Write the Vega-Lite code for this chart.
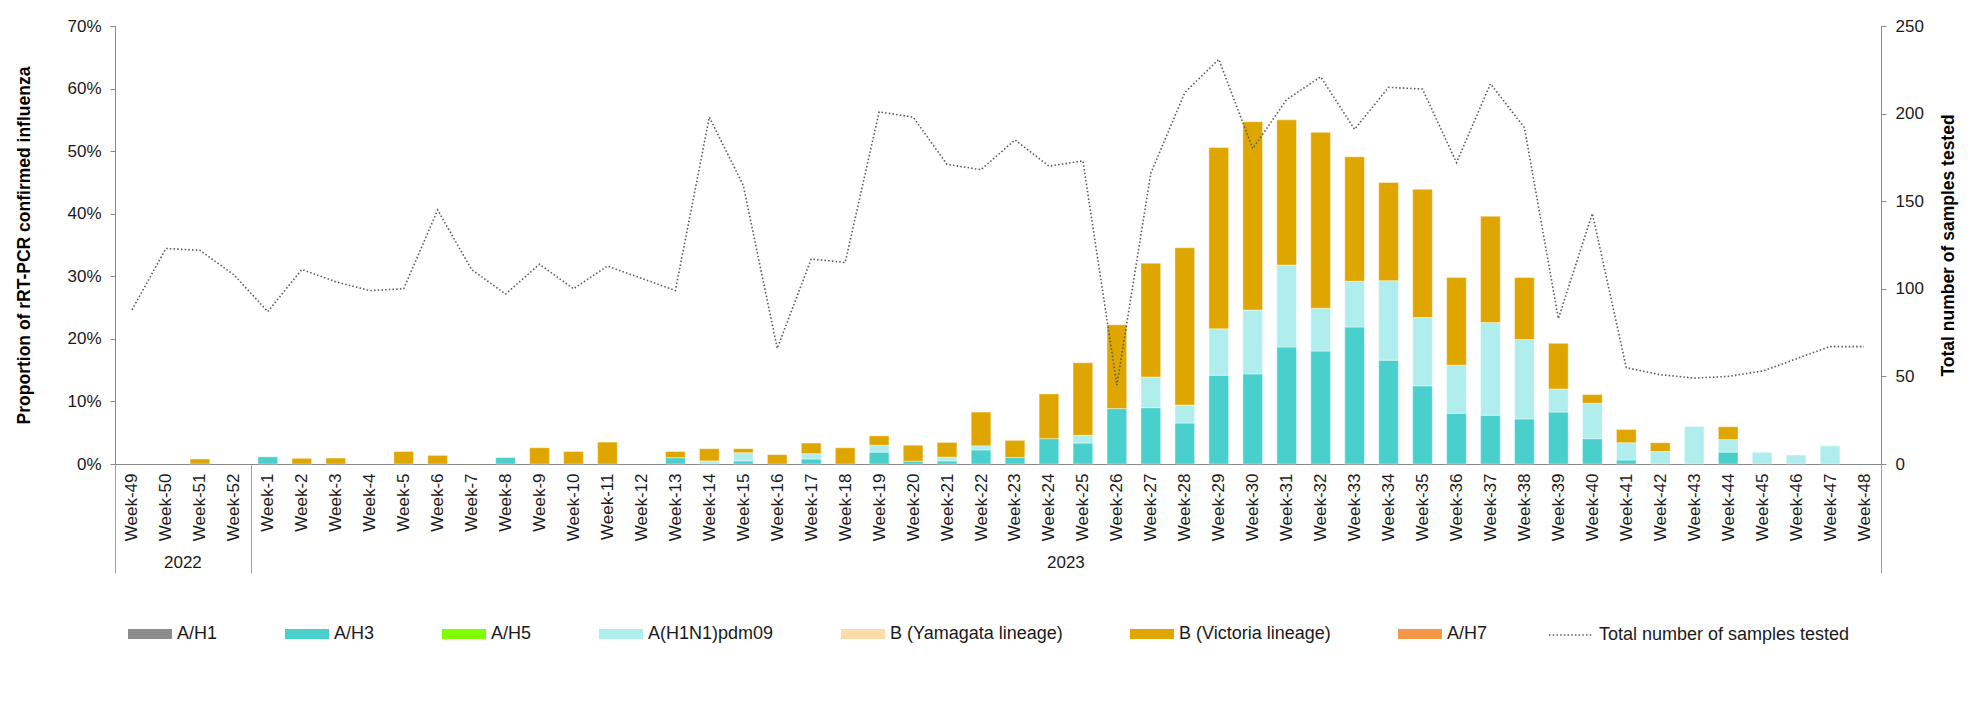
{
  "$schema": "https://vega.github.io/schema/vega-lite/v6.json",
  "width": 1766,
  "height": 438,
  "autosize": {"type": "none"},
  "padding": {"left": 115, "top": 26, "right": 100, "bottom": 240},
  "background": "white",
  "config": {
    "font": "Liberation Sans",
    "view": {"stroke": null},
    "axis": {"labelFont": "Liberation Sans", "titleFont": "Liberation Sans", "labelColor": "#1a1a1a", "titleColor": "#000000", "domainColor": "#898989", "tickColor": "#898989", "grid": false},
    "legend": {"labelFont": "Liberation Sans", "labelColor": "#1a1a1a", "labelFontSize": 18, "labelOffset": 5, "labelLimit": 400, "title": null}
  },
  "datasets": {
    "subtypes": [
      {"subtype": "A/H1", "stackRank": 1},
      {"subtype": "A/H3", "stackRank": 2},
      {"subtype": "A/H5", "stackRank": 3},
      {"subtype": "A(H1N1)pdm09", "stackRank": 4},
      {"subtype": "B (Yamagata lineage)", "stackRank": 5},
      {"subtype": "B (Victoria lineage)", "stackRank": 6},
      {"subtype": "A/H7", "stackRank": 7}
    ],
    "bars": [
      {"week": "Week-51", "subtype": "B (Victoria lineage)", "percent": 0.8},
      {"week": "Week-1", "subtype": "A/H3", "percent": 1.15},
      {"week": "Week-2", "subtype": "B (Victoria lineage)", "percent": 0.9},
      {"week": "Week-3", "subtype": "B (Victoria lineage)", "percent": 0.95},
      {"week": "Week-5", "subtype": "B (Victoria lineage)", "percent": 2.0},
      {"week": "Week-6", "subtype": "B (Victoria lineage)", "percent": 1.38},
      {"week": "Week-8", "subtype": "A/H3", "percent": 1.03},
      {"week": "Week-9", "subtype": "B (Victoria lineage)", "percent": 2.6},
      {"week": "Week-10", "subtype": "B (Victoria lineage)", "percent": 2.0},
      {"week": "Week-11", "subtype": "B (Victoria lineage)", "percent": 3.5},
      {"week": "Week-13", "subtype": "A/H3", "percent": 1.0},
      {"week": "Week-13", "subtype": "B (Victoria lineage)", "percent": 1.0},
      {"week": "Week-14", "subtype": "A(H1N1)pdm09", "percent": 0.5},
      {"week": "Week-14", "subtype": "B (Victoria lineage)", "percent": 1.95},
      {"week": "Week-15", "subtype": "A/H3", "percent": 0.5},
      {"week": "Week-15", "subtype": "A(H1N1)pdm09", "percent": 1.3},
      {"week": "Week-15", "subtype": "B (Victoria lineage)", "percent": 0.65},
      {"week": "Week-16", "subtype": "B (Victoria lineage)", "percent": 1.5},
      {"week": "Week-17", "subtype": "A/H3", "percent": 0.8},
      {"week": "Week-17", "subtype": "A(H1N1)pdm09", "percent": 0.85},
      {"week": "Week-17", "subtype": "B (Victoria lineage)", "percent": 1.7},
      {"week": "Week-18", "subtype": "B (Victoria lineage)", "percent": 2.6},
      {"week": "Week-19", "subtype": "A/H3", "percent": 1.9},
      {"week": "Week-19", "subtype": "A(H1N1)pdm09", "percent": 1.1},
      {"week": "Week-19", "subtype": "B (Victoria lineage)", "percent": 1.5},
      {"week": "Week-20", "subtype": "A/H3", "percent": 0.45},
      {"week": "Week-20", "subtype": "B (Victoria lineage)", "percent": 2.55},
      {"week": "Week-21", "subtype": "A/H3", "percent": 0.5},
      {"week": "Week-21", "subtype": "A(H1N1)pdm09", "percent": 0.6},
      {"week": "Week-21", "subtype": "B (Victoria lineage)", "percent": 2.35},
      {"week": "Week-22", "subtype": "A/H3", "percent": 2.25},
      {"week": "Week-22", "subtype": "A(H1N1)pdm09", "percent": 0.65},
      {"week": "Week-22", "subtype": "B (Victoria lineage)", "percent": 5.4},
      {"week": "Week-23", "subtype": "A/H3", "percent": 1.06},
      {"week": "Week-23", "subtype": "B (Victoria lineage)", "percent": 2.72},
      {"week": "Week-24", "subtype": "A/H3", "percent": 4.05},
      {"week": "Week-24", "subtype": "B (Victoria lineage)", "percent": 7.15},
      {"week": "Week-25", "subtype": "A/H3", "percent": 3.35},
      {"week": "Week-25", "subtype": "A(H1N1)pdm09", "percent": 1.23},
      {"week": "Week-25", "subtype": "B (Victoria lineage)", "percent": 11.6},
      {"week": "Week-26", "subtype": "A/H3", "percent": 8.85},
      {"week": "Week-26", "subtype": "B (Victoria lineage)", "percent": 13.4},
      {"week": "Week-27", "subtype": "A/H3", "percent": 9.0},
      {"week": "Week-27", "subtype": "A(H1N1)pdm09", "percent": 4.9},
      {"week": "Week-27", "subtype": "B (Victoria lineage)", "percent": 18.2},
      {"week": "Week-28", "subtype": "A/H3", "percent": 6.55},
      {"week": "Week-28", "subtype": "A(H1N1)pdm09", "percent": 2.87},
      {"week": "Week-28", "subtype": "B (Victoria lineage)", "percent": 25.14},
      {"week": "Week-29", "subtype": "A/H3", "percent": 14.2},
      {"week": "Week-29", "subtype": "A(H1N1)pdm09", "percent": 7.4},
      {"week": "Week-29", "subtype": "B (Victoria lineage)", "percent": 29.0},
      {"week": "Week-30", "subtype": "A/H3", "percent": 14.4},
      {"week": "Week-30", "subtype": "A(H1N1)pdm09", "percent": 10.2},
      {"week": "Week-30", "subtype": "B (Victoria lineage)", "percent": 30.1},
      {"week": "Week-31", "subtype": "A/H3", "percent": 18.7},
      {"week": "Week-31", "subtype": "A(H1N1)pdm09", "percent": 13.1},
      {"week": "Week-31", "subtype": "B (Victoria lineage)", "percent": 23.2},
      {"week": "Week-32", "subtype": "A/H3", "percent": 18.05},
      {"week": "Week-32", "subtype": "A(H1N1)pdm09", "percent": 6.85},
      {"week": "Week-32", "subtype": "B (Victoria lineage)", "percent": 28.1},
      {"week": "Week-33", "subtype": "A/H3", "percent": 21.9},
      {"week": "Week-33", "subtype": "A(H1N1)pdm09", "percent": 7.3},
      {"week": "Week-33", "subtype": "B (Victoria lineage)", "percent": 19.9},
      {"week": "Week-34", "subtype": "A/H3", "percent": 16.6},
      {"week": "Week-34", "subtype": "A(H1N1)pdm09", "percent": 12.7},
      {"week": "Week-34", "subtype": "B (Victoria lineage)", "percent": 15.7},
      {"week": "Week-35", "subtype": "A/H3", "percent": 12.5},
      {"week": "Week-35", "subtype": "A(H1N1)pdm09", "percent": 10.9},
      {"week": "Week-35", "subtype": "B (Victoria lineage)", "percent": 20.5},
      {"week": "Week-36", "subtype": "A/H3", "percent": 8.1},
      {"week": "Week-36", "subtype": "A(H1N1)pdm09", "percent": 7.7},
      {"week": "Week-36", "subtype": "B (Victoria lineage)", "percent": 14.0},
      {"week": "Week-37", "subtype": "A/H3", "percent": 7.8},
      {"week": "Week-37", "subtype": "A(H1N1)pdm09", "percent": 14.8},
      {"week": "Week-37", "subtype": "B (Victoria lineage)", "percent": 17.0},
      {"week": "Week-38", "subtype": "A/H3", "percent": 7.2},
      {"week": "Week-38", "subtype": "A(H1N1)pdm09", "percent": 12.7},
      {"week": "Week-38", "subtype": "B (Victoria lineage)", "percent": 9.9},
      {"week": "Week-39", "subtype": "A/H3", "percent": 8.3},
      {"week": "Week-39", "subtype": "A(H1N1)pdm09", "percent": 3.7},
      {"week": "Week-39", "subtype": "B (Victoria lineage)", "percent": 7.3},
      {"week": "Week-40", "subtype": "A/H3", "percent": 4.05},
      {"week": "Week-40", "subtype": "A(H1N1)pdm09", "percent": 5.65},
      {"week": "Week-40", "subtype": "B (Victoria lineage)", "percent": 1.4},
      {"week": "Week-41", "subtype": "A/H3", "percent": 0.64},
      {"week": "Week-41", "subtype": "A(H1N1)pdm09", "percent": 2.76},
      {"week": "Week-41", "subtype": "B (Victoria lineage)", "percent": 2.1},
      {"week": "Week-42", "subtype": "A(H1N1)pdm09", "percent": 2.0},
      {"week": "Week-42", "subtype": "B (Victoria lineage)", "percent": 1.4},
      {"week": "Week-43", "subtype": "A(H1N1)pdm09", "percent": 6.0},
      {"week": "Week-44", "subtype": "A/H3", "percent": 1.9},
      {"week": "Week-44", "subtype": "A(H1N1)pdm09", "percent": 2.0},
      {"week": "Week-44", "subtype": "B (Victoria lineage)", "percent": 2.06},
      {"week": "Week-45", "subtype": "A(H1N1)pdm09", "percent": 1.86},
      {"week": "Week-46", "subtype": "A(H1N1)pdm09", "percent": 1.44},
      {"week": "Week-47", "subtype": "A(H1N1)pdm09", "percent": 2.9}
    ],
    "totals": [
      {"week": "Week-49", "total": 88}, {"week": "Week-50", "total": 123}, {"week": "Week-51", "total": 122}, {"week": "Week-52", "total": 108},
      {"week": "Week-1", "total": 87}, {"week": "Week-2", "total": 111}, {"week": "Week-3", "total": 104}, {"week": "Week-4", "total": 99},
      {"week": "Week-5", "total": 100}, {"week": "Week-6", "total": 145}, {"week": "Week-7", "total": 111}, {"week": "Week-8", "total": 97},
      {"week": "Week-9", "total": 114}, {"week": "Week-10", "total": 100}, {"week": "Week-11", "total": 113}, {"week": "Week-12", "total": 106},
      {"week": "Week-13", "total": 99}, {"week": "Week-14", "total": 198}, {"week": "Week-15", "total": 159}, {"week": "Week-16", "total": 66},
      {"week": "Week-17", "total": 117}, {"week": "Week-18", "total": 115}, {"week": "Week-19", "total": 201}, {"week": "Week-20", "total": 198},
      {"week": "Week-21", "total": 171}, {"week": "Week-22", "total": 168}, {"week": "Week-23", "total": 185}, {"week": "Week-24", "total": 170},
      {"week": "Week-25", "total": 173}, {"week": "Week-26", "total": 45}, {"week": "Week-27", "total": 166}, {"week": "Week-28", "total": 212},
      {"week": "Week-29", "total": 231}, {"week": "Week-30", "total": 180}, {"week": "Week-31", "total": 208}, {"week": "Week-32", "total": 221},
      {"week": "Week-33", "total": 191}, {"week": "Week-34", "total": 215}, {"week": "Week-35", "total": 214}, {"week": "Week-36", "total": 172},
      {"week": "Week-37", "total": 217}, {"week": "Week-38", "total": 192}, {"week": "Week-39", "total": 83}, {"week": "Week-40", "total": 143},
      {"week": "Week-41", "total": 55}, {"week": "Week-42", "total": 51}, {"week": "Week-43", "total": 49}, {"week": "Week-44", "total": 50},
      {"week": "Week-45", "total": 53}, {"week": "Week-46", "total": 60}, {"week": "Week-47", "total": 67}, {"week": "Week-48", "total": 67}
    ]
  },
  "layer": [
    {
      "data": {"name": "bars"},
      "transform": [
        {"lookup": "subtype", "from": {"data": {"name": "subtypes"}, "key": "subtype", "fields": ["stackRank"]}}
      ],
      "mark": {"type": "bar", "width": {"band": 0.58}, "stroke": "#ffffff", "strokeWidth": 0.6, "strokeOpacity": 0.7},
      "encoding": {
        "x": {
          "field": "week",
          "type": "nominal",
          "scale": {
            "domain": ["Week-49","Week-50","Week-51","Week-52","Week-1","Week-2","Week-3","Week-4","Week-5","Week-6","Week-7","Week-8","Week-9","Week-10","Week-11","Week-12","Week-13","Week-14","Week-15","Week-16","Week-17","Week-18","Week-19","Week-20","Week-21","Week-22","Week-23","Week-24","Week-25","Week-26","Week-27","Week-28","Week-29","Week-30","Week-31","Week-32","Week-33","Week-34","Week-35","Week-36","Week-37","Week-38","Week-39","Week-40","Week-41","Week-42","Week-43","Week-44","Week-45","Week-46","Week-47","Week-48"],
            "paddingInner": 0,
            "paddingOuter": 0
          },
          "axis": {
            "title": null,
            "orient": "bottom",
            "labelAngle": 270,
            "labelFontSize": 17,
            "labelOverlap": false,
            "labelPadding": -100,
            "tickSize": 109,
            "tickBand": "extent",
            "tickWidth": 1,
            "tickColor": {"condition": {"test": "datum.index < 0 || datum.value === 'Week-52' || datum.value === 'Week-48'", "value": "#a0a0a0"}, "value": "transparent"},
            "domainColor": "#898989"
          }
        },
        "y": {
          "field": "percent",
          "type": "quantitative",
          "stack": "zero",
          "scale": {"domain": [0, 70], "nice": false},
          "axis": {
            "title": "Proportion of rRT-PCR confirmed influenza",
            "titleFontSize": 17.5,
            "titleFontWeight": "bold",
            "titlePadding": 33,
            "values": [0, 10, 20, 30, 40, 50, 60, 70],
            "labelExpr": "datum.value + '%'",
            "labelFontSize": 17,
            "tickSize": 5,
            "labelPadding": 9
          }
        },
        "color": {
          "field": "subtype",
          "type": "nominal",
          "scale": {
            "domain": ["A/H1", "A/H3", "A/H5", "A(H1N1)pdm09", "B (Yamagata lineage)", "B (Victoria lineage)", "A/H7"],
            "range": ["#8c8c8c", "#4ad0cc", "#7fff00", "#b0eeee", "#fddcaa", "#e0a600", "#f79646"]
          },
          "legend": {
            "orient": "none",
            "legendX": 13,
            "legendY": 586,
            "direction": "horizontal",
            "columns": 7,
            "symbolType": "M-1,-0.227H1V0.227H-1Z",
            "symbolSize": 1936,
            "symbolStrokeWidth": 0,
            "symbolOpacity": 1,
            "columnPadding": 67
          }
        },
        "order": {"field": "stackRank", "type": "quantitative", "sort": "ascending"}
      }
    },
    {
      "data": {"name": "totals"},
      "mark": {"type": "line", "stroke": "#595959", "strokeWidth": 1.6},
      "encoding": {
        "x": {
          "field": "week",
          "type": "nominal",
          "axis": {
            "title": null,
            "orient": "bottom",
            "values": ["Week-51", "Week-25"],
            "labelExpr": "datum.value === 'Week-51' ? '2022' : '2023'",
            "labelAngle": 0,
            "labelOffset": -17,
            "labelFontSize": 17,
            "labelPadding": 2,
            "ticks": false,
            "domain": false,
            "offset": 88
          }
        },
        "y": {
          "field": "total",
          "type": "quantitative",
          "scale": {"domain": [0, 250], "nice": false},
          "axis": {
            "orient": "right",
            "title": "Total number of samples tested",
            "titleFontSize": 17.5,
            "titleFontWeight": "bold",
            "titleAngle": 270,
            "titleBaseline": "top",
            "titlePadding": 16,
            "values": [0, 50, 100, 150, 200, 250],
            "labelFontSize": 17,
            "tickSize": 5,
            "labelPadding": 9
          }
        },
        "strokeDash": {
          "datum": "Total number of samples tested",
          "type": "nominal",
          "scale": {"domain": ["Total number of samples tested"], "range": [[1.5, 2.2]]},
          "legend": {
            "orient": "none",
            "legendX": 1433,
            "legendY": 586,
            "direction": "horizontal",
            "symbolType": "stroke",
            "symbolSize": 1936,
            "symbolStrokeColor": "#595959",
            "symbolStrokeWidth": 1.5
          }
        }
      }
    }
  ],
  "resolve": {"scale": {"y": "independent"}, "axis": {"x": "independent", "y": "independent"}}
}
